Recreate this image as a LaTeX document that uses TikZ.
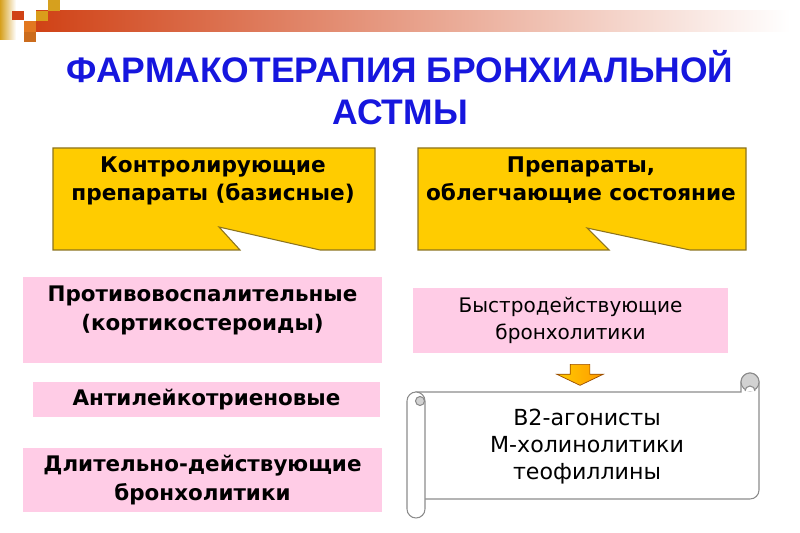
\documentclass[tikz,border=0pt]{standalone}
\usepackage{fontspec}
\setmainfont{DejaVu Sans}
\newfontfamily\titlefont{Liberation Sans}
\usetikzlibrary{shapes.arrows, positioning}

\definecolor{callyellow}{RGB}{255,204,0}
\definecolor{callline}{RGB}{140,115,30}
\definecolor{boxpink}{RGB}{255,204,230}
\definecolor{titleblue}{RGB}{22,22,222}
\definecolor{barred}{RGB}{208,66,22}
\definecolor{bargold}{RGB}{214,160,30}
\definecolor{barorange}{RGB}{226,120,32}
\definecolor{scrollline}{RGB}{140,140,140}

\begin{document}
\begin{tikzpicture}[
    x=0.02cm, y=-0.02cm,
    titletext/.style={
        font=\titlefont\fontsize{20.2}{23.9}\selectfont\bfseries,
        text=titleblue, align=center, inner sep=0pt
    },
    callout/.style={draw=callline, fill=callyellow, line width=0.6pt},
    calltext/.style={
        font=\fontsize{12.3}{16}\selectfont\bfseries,
        align=center, inner sep=0pt
    },
    drugbox/.style={
        fill=boxpink, align=center, inner sep=0pt,
        font=\fontsize{12.2}{16.5}\selectfont\bfseries
    },
    scroll/.style={draw=scrollline, fill=white, line width=0.6pt},
    curl/.style={draw=scrollline, fill=gray!35, line width=0.6pt},
    blockarrow/.style={
        single arrow, rotate=-90, inner sep=0pt, inner ysep=0.19cm,
        single arrow head extend=0.27cm, single arrow tip angle=129,
        minimum height=0.42cm,
        draw=orange!60!black, line width=0.4pt,
        left color=callyellow, right color=orange!80!yellow
    }
]
\useasboundingbox (0,0) rectangle (800,533);

%% -- header bar --------------------------------
\shade[left color=bargold, right color=white] (0,0) rectangle (16,40);
\shade[left color=barred, right color=white] (36,11) rectangle (790,32);
\fill[barred] (12,11) rectangle (24,20);
\fill[bargold!90!orange] (36,11) rectangle (48,21);
\fill[bargold] (48,0) rectangle (60,11);
\fill[barorange] (24,21) rectangle (36,32);
\fill[barorange!90!black] (24,32) rectangle (36,42);

%% -- title -------------------------------------
\node[titletext] (title) at (400,88)
    {ФАРМАКОТЕРАПИЯ БРОНХИАЛЬНОЙ\\АСТМЫ};

%% -- callouts ----------------------------------
\draw[callout] (53,148) -- (375,148) -- (375,250) -- (320,250)
    -- (219,227) -- (240,250) -- (53,250) -- cycle;
\node[calltext] (ctrl) at (213,181)
    {Контролирующие\\препараты (базисные)};

\draw[callout] (418,148) -- (746,148) -- (746,250) -- (690,250)
    -- (587,228) -- (609,250) -- (418,250) -- cycle;
\node[calltext] (relief) at (581,180)
    {Препараты,\\облегчающие состояние};

%% -- left column -------------------------------
\node[drugbox, minimum width=7.18cm, minimum height=1.72cm,
      text depth=13.9pt] (antiinfl) at (202.5,320)
    {Противовоспалительные\\(кортикостероиды)};
\node[drugbox, minimum width=6.94cm, minimum height=0.7cm]
    (antileuk) at (206.5,399.5) {Антилейкотриеновые};
\node[drugbox, minimum width=7.18cm, minimum height=1.28cm]
    (longbron) at (202.5,480)
    {Длительно-действующие\\бронхолитики};

%% -- right column ------------------------------
\node[drugbox, font=\fontsize{11.4}{15.4}\selectfont,
      minimum width=6.3cm, minimum height=1.3cm]
    (fastbron) at (570.5,320.5)
    {Быстродействующие\\бронхолитики};

\node[blockarrow] (arr) at (580,372.5) {};

% свиток
\draw[scroll] (416,392) -- (741,392) -- (741,382)
    arc[start angle=180, end angle=360, radius=9]
    -- (759,490) arc[start angle=0, end angle=90, radius=9]
    -- (416,499) -- cycle;
\draw[curl] (750,382) circle[radius=9];
\draw[scroll] (745,391) arc[start angle=180, end angle=360, radius=5];
\draw[scroll] (407,401) -- (407,509)
    arc[start angle=180, end angle=0, radius=9]
    -- (425,401) arc[start angle=0, end angle=-180, radius=9] -- cycle;
\draw[curl] (420,401) circle[radius=4.5];

\node[align=center, inner sep=0pt,
      font=\fontsize{12.6}{15.4}\selectfont] (agents) at (587,447)
    {В2-агонисты\\М-холинолитики\\теофиллины};
\end{tikzpicture}
\end{document}
